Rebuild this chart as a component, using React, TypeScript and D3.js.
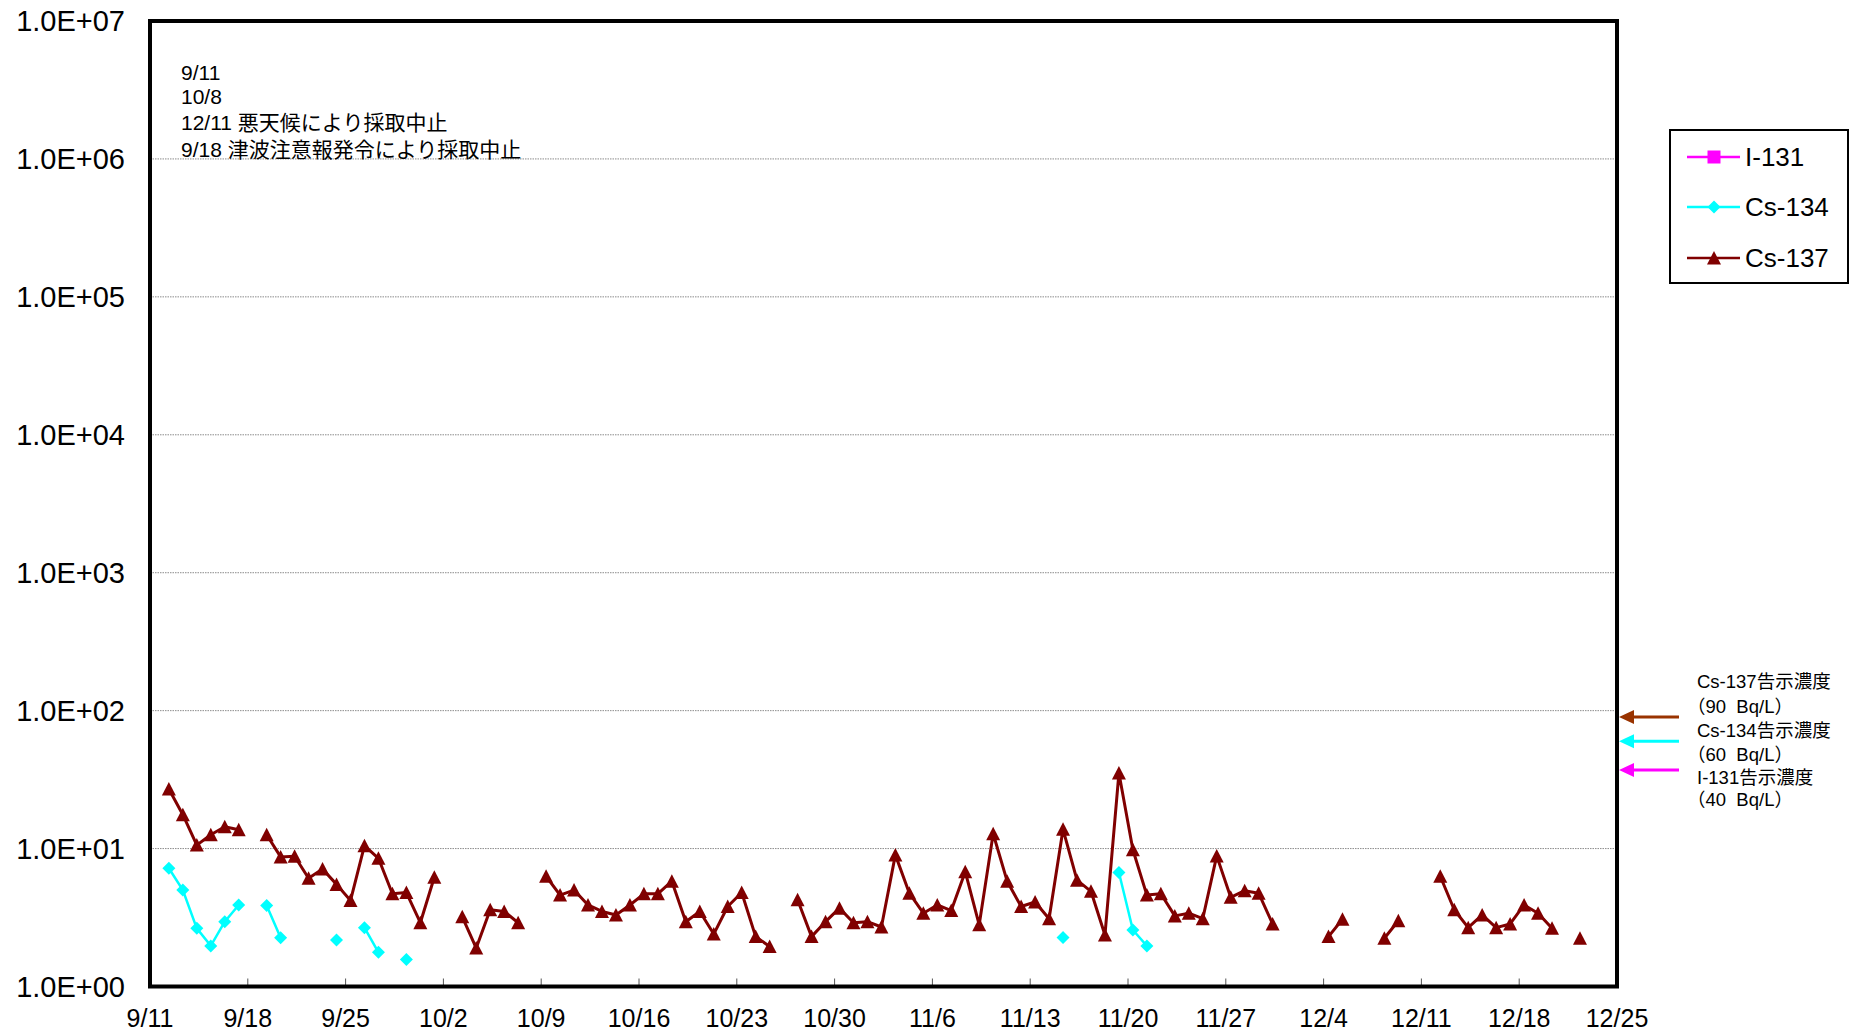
import React from "react";
import * as d3 from "d3";

// ---------------- DATA ----------------
const YEAR = 2023;
const AXIS_START = "9/11";
const AXIS_END = "12/25";
const xTickLabels = ["9/11", "9/18", "9/25", "10/2", "10/9", "10/16", "10/23", "10/30", "11/6", "11/13", "11/20", "11/27", "12/4", "12/11", "12/18", "12/25"];
const yTickValues = [1, 10, 100, 1e3, 1e4, 1e5, 1e6, 1e7];

const sampleDates = [
  "9/12", "9/13", "9/14", "9/15", "9/16", "9/17", "9/18", "9/19", "9/20", "9/21", "9/22", "9/23", "9/24", "9/25", "9/26", "9/27", "9/28", "9/29", "9/30",
  "10/1", "10/2", "10/3", "10/4", "10/5", "10/6", "10/7", "10/8", "10/9", "10/10", "10/11", "10/12", "10/13", "10/14", "10/15", "10/16", "10/17", "10/18", "10/19", "10/20", "10/21", "10/22", "10/23", "10/24", "10/25", "10/26", "10/27", "10/28", "10/29", "10/30", "10/31",
  "11/1", "11/2", "11/3", "11/4", "11/5", "11/6", "11/7", "11/8", "11/9", "11/10", "11/11", "11/12", "11/13", "11/14", "11/15", "11/16", "11/17", "11/18", "11/19", "11/20", "11/21", "11/22", "11/23", "11/24", "11/25", "11/26", "11/27", "11/28", "11/29", "11/30",
  "12/1", "12/2", "12/3", "12/4", "12/5", "12/6", "12/7", "12/8", "12/9", "12/10", "12/11", "12/12", "12/13", "12/14", "12/15", "12/16", "12/17", "12/18", "12/19", "12/20", "12/21", "12/22",
];

const cs137Values: (number | null)[] = [
  27, 17.6, 10.6, 12.6, 14.4, 13.7, null, 12.6, 8.7, 8.8, 6.1, 7.1, 5.5, 4.2, 10.5, 8.5, 4.7, 4.8, 2.9,
  6.2, null, 3.2, 1.9, 3.6, 3.5, 2.9, null, 6.3, 4.6, 5.0, 3.9, 3.5, 3.3, 3.9, 4.7, 4.7, 5.8, 2.95, 3.5, 2.4, 3.8, 4.8, 2.3, 1.95, null, 4.25, 2.3, 2.95, 3.7, 2.9,
  2.95, 2.7, 9.0, 4.75, 3.4, 3.9, 3.55, 6.8, 2.8, 12.8, 5.8, 3.8, 4.1, 3.1, 13.8, 5.9, 4.9, 2.36, 35.3, 9.8, 4.6, 4.7, 3.25, 3.4, 3.1, 8.85, 4.43, 4.95, 4.75, 2.84,
  null, null, null, 2.3, 3.07, null, null, 2.24, 3.0, null, null, 6.3, 3.6, 2.67, 3.3, 2.67, 2.84, 3.9, 3.4, 2.64, null, 2.24,
];

const cs134Dates = ["9/12", "9/13", "9/14", "9/15", "9/16", "9/17", "9/19", "9/20", "9/24", "9/26", "9/27", "9/29", "11/15", "11/19", "11/20", "11/21"];
const cs134Values = [7.2, 5.0, 2.64, 1.97, 2.95, 3.9, 3.86, 2.26, 2.17, 2.67, 1.77, 1.57, 2.27, 6.7, 2.57, 1.97];

const i131Dates: string[] = [];
const i131Values: number[] = [];

const seriesNames = ["I-131", "Cs-134", "Cs-137"];
const seriesColors = ["#FF00FF", "#00FFFF", "#800000"];

const limitLabels = ["Cs-137告示濃度", "Cs-134告示濃度", "I-131告示濃度"];
const limitSubLabels = ["（90  Bq/L）", "（60  Bq/L）", "（40  Bq/L）"];
const limitValues = [90, 60, 40];
const limitColors = ["#993300", "#00FFFF", "#FF00FF"];

const noteLines = ["9/11", "10/8", "12/11 悪天候により採取中止", "9/18 津波注意報発令により採取中止"];

// sampling time of day (minutes after midnight)
const SAMPLE_MINUTES = 504;

// ---------------- LAYOUT ----------------
const W = 1850;
const H = 1035;
const PLOT = { left: 150, right: 1617, top: 21, bottom: 986.5 };
const FONT = "'Liberation Sans', Arial, 'Noto Sans CJK JP', sans-serif";
const LIMIT_TEXT_Y = [[682, 707], [731, 755], [778, 800]];
const LIMIT_ARROW_NUDGE = [0, 0, 4.5];
const NOTE_Y = [73, 97, 123, 150];
const LEGEND = { x: 1670, y: 130, w: 178, h: 153, rows: [157, 207, 258] };

function parseDate(s: string) {
  const [m, d] = s.split("/").map(Number);
  return new Date(YEAR, m - 1, d);
}

function triPath(cx: number, cy: number, r = 7) {
  return `M${cx},${cy - r}L${cx + r},${cy + r * 0.93}L${cx - r},${cy + r * 0.93}Z`;
}
function diamondPath(cx: number, cy: number, r = 6.5) {
  return `M${cx},${cy - r}L${cx + r},${cy}L${cx},${cy + r}L${cx - r},${cy}Z`;
}
function squarePath(cx: number, cy: number, r = 6.5) {
  return `M${cx - r},${cy - r}H${cx + r}V${cy + r}H${cx - r}Z`;
}

export default function App() {
  const x = d3.scaleTime().domain([parseDate(AXIS_START), parseDate(AXIS_END)]).range([PLOT.left, PLOT.right]);
  const y = d3.scaleLog().domain([1, 1e7]).range([PLOT.bottom, PLOT.top]);

  const sampleT = (s: string) => d3.timeMinute.offset(parseDate(s), SAMPLE_MINUTES);

  type Pt = { t: Date; v: number | null };
  const cs137: Pt[] = sampleDates.map((s, i) => ({ t: sampleT(s), v: cs137Values[i] }));
  const cs134Map = new Map(cs134Dates.map((s, i) => [s, cs134Values[i]]));
  const cs134: Pt[] = sampleDates.map((s) => ({ t: sampleT(s), v: cs134Map.has(s) ? (cs134Map.get(s) as number) : null }));
  const i131Map = new Map(i131Dates.map((s, i) => [s, i131Values[i]]));
  const i131: Pt[] = sampleDates.map((s) => ({ t: sampleT(s), v: i131Map.has(s) ? (i131Map.get(s) as number) : null }));

  const line = d3
    .line<Pt>()
    .defined((d) => d.v != null)
    .x((d) => x(d.t))
    .y((d) => y(d.v as number));

  const fmtY = (v: number) => `1.0E+${String(Math.round(Math.log10(v))).padStart(2, "0")}`;

  return (
    <svg
      width={W}
      height={H}
      style={{ position: "fixed", left: 0, top: 0, background: "#fff", fontFamily: FONT }}
    >
      <rect x={0} y={0} width={W} height={H} fill="#fff" />

      {/* gridlines */}
      {yTickValues.slice(1, -1).map((v) => (
        <line key={v} x1={PLOT.left} x2={PLOT.right} y1={y(v)} y2={y(v)} stroke="#8c8c8c" strokeWidth={1} strokeDasharray="1.5,1" />
      ))}

      {/* x ticks (inside) */}
      {xTickLabels.map((s) => (
        <line key={s} x1={x(parseDate(s))} x2={x(parseDate(s))} y1={PLOT.bottom} y2={PLOT.bottom - 8} stroke="#555" strokeWidth={1} />
      ))}

      {/* series lines */}
      <path d={line(i131) || ""} fill="none" stroke={seriesColors[0]} strokeWidth={2.5} />
      <path d={line(cs134) || ""} fill="none" stroke={seriesColors[1]} strokeWidth={2.5} />
      <path d={line(cs137) || ""} fill="none" stroke={seriesColors[2]} strokeWidth={3} strokeLinejoin="round" />

      {/* markers */}
      {i131.filter((d) => d.v != null).map((d, i) => (
        <path key={"i" + i} d={squarePath(x(d.t), y(d.v as number))} fill={seriesColors[0]} />
      ))}
      {cs134.filter((d) => d.v != null).map((d, i) => (
        <path key={"c4" + i} d={diamondPath(x(d.t), y(d.v as number))} fill={seriesColors[1]} />
      ))}
      {cs137.filter((d) => d.v != null).map((d, i) => (
        <path key={"c7" + i} d={triPath(x(d.t), y(d.v as number))} fill={seriesColors[2]} />
      ))}

      {/* plot border */}
      <rect x={PLOT.left} y={PLOT.top} width={PLOT.right - PLOT.left} height={PLOT.bottom - PLOT.top} fill="none" stroke="#000" strokeWidth={4} />

      {/* y labels */}
      {yTickValues.map((v) => (
        <text key={v} x={125} y={y(v)} dy="0.35em" textAnchor="end" fontSize={29} fill="#000">
          {fmtY(v)}
        </text>
      ))}

      {/* x labels */}
      {xTickLabels.map((s) => (
        <text key={s} x={x(parseDate(s))} y={1027} textAnchor="middle" fontSize={25} fill="#000">
          {s}
        </text>
      ))}

      {/* notes */}
      {noteLines.map((t, i) => (
        <text key={t} x={181} y={NOTE_Y[i]} dy="0.35em" fontSize={21} fill="#000">
          {t}
        </text>
      ))}

      {/* legend */}
      <rect x={LEGEND.x} y={LEGEND.y} width={LEGEND.w} height={LEGEND.h} fill="#fff" stroke="#000" strokeWidth={2} />
      {seriesNames.map((n, i) => {
        const cy = LEGEND.rows[i];
        const mk = i === 0 ? squarePath(1714, cy) : i === 1 ? diamondPath(1714, cy) : triPath(1714, cy);
        return (
          <g key={n}>
            <line x1={1687} x2={1740} y1={cy} y2={cy} stroke={seriesColors[i]} strokeWidth={2.5} />
            <path d={mk} fill={seriesColors[i]} />
            <text x={1745} y={cy} dy="0.35em" fontSize={26} fill="#000">
              {n}
            </text>
          </g>
        );
      })}

      {/* limit arrows */}
      {limitValues.map((v, i) => {
        const ay = y(v) + LIMIT_ARROW_NUDGE[i];
        return (
          <g key={v}>
            <line x1={1679} x2={1630} y1={ay} y2={ay} stroke={limitColors[i]} strokeWidth={3} />
            <path d={`M1619,${ay}L1634,${ay - 7}L1634,${ay + 7}Z`} fill={limitColors[i]} />
            <text x={1697} y={LIMIT_TEXT_Y[i][0]} dy="0.35em" fontSize={18.5} fill="#000">
              {limitLabels[i]}
            </text>
            <text x={1687} y={LIMIT_TEXT_Y[i][1]} dy="0.35em" fontSize={18.5} fill="#000" style={{ whiteSpace: "pre" }}>
              {limitSubLabels[i]}
            </text>
          </g>
        );
      })}
    </svg>
  );
}
